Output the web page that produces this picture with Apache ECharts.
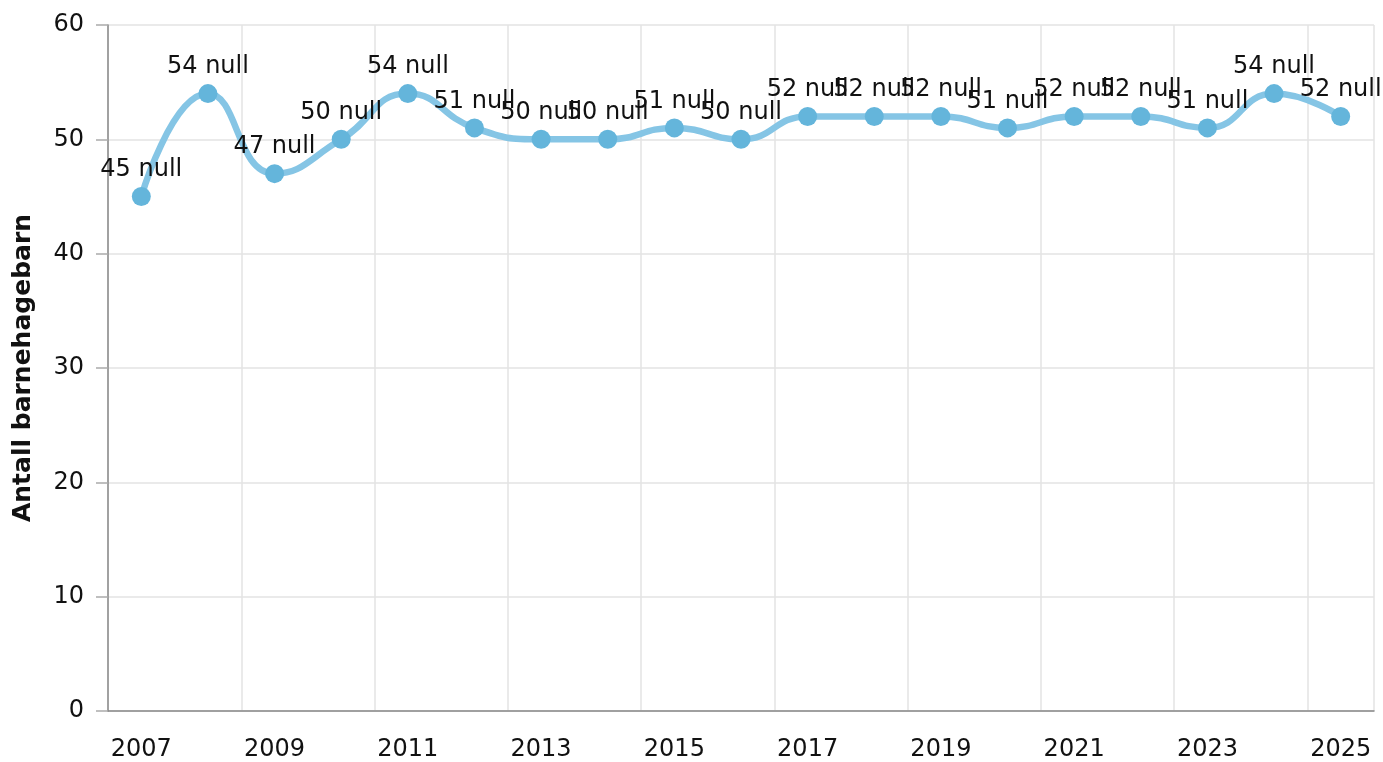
<!DOCTYPE html>
<html><head><meta charset="utf-8">
<script src="https://cdn.jsdelivr.net/npm/echarts@6/dist/echarts.min.js"></script>
<style>html,body{margin:0;padding:0;background:#fff}#c{width:1383px;height:762px}</style>
</head><body><div id="c"></div>
<script>
const years = ['2007','2008','2009','2010','2011','2012','2013','2014','2015','2016','2017','2018','2019','2020','2021','2022','2023','2024','2025'];
const values = [45,54,47,50,54,51,50,50,51,50,52,52,52,51,52,52,51,54,52];
const yTicks = {min:0, max:60, interval:10};
const yName = 'Antall barnehagebarn';
const FONT = 'DejaVu Sans';
const chart = echarts.init(document.getElementById('c'), null, {renderer:'canvas'});
chart.setOption({
  animation:false,
  textStyle:{fontFamily:FONT},
  grid:{left:108,right:9,top:25,bottom:50,containLabel:false},
  xAxis:{
    type:'category', data:years, boundaryGap:true,
    axisLine:{lineStyle:{color:'#888',width:1.5}},
    axisTick:{alignWithLabel:true, interval:1, length:8, lineStyle:{color:'#aaa',width:1.5}},
    axisLabel:{interval:1, color:'#111', fontSize:24, fontFamily:FONT, margin:27},
    splitLine:{show:true, interval:1, lineStyle:{color:'#e3e3e3',width:1.5}}
  },
  yAxis:{
    type:'value', min:yTicks.min, max:yTicks.max, interval:yTicks.interval,
    name:yName, nameLocation:'middle', nameGap:72, nameRotate:90,
    nameTextStyle:{fontSize:25, fontWeight:'bold', color:'#111', fontFamily:FONT},
    axisLine:{show:true, lineStyle:{color:'#888',width:1.5}},
    axisTick:{show:true, length:12, lineStyle:{color:'#aaa',width:1.5}},
    axisLabel:{color:'#111', fontSize:24, fontFamily:FONT, margin:24},
    splitLine:{lineStyle:{color:'#e3e3e3',width:1.5}}
  },
  series:[{
    type:'line', data:values, smooth:true,
    symbol:'circle', symbolSize:19,
    lineStyle:{color:'#85c5e5', width:6.5},
    itemStyle:{color:'#64b5db'},
    label:{show:true, position:'top', distance:5, color:'#111', fontSize:24, fontFamily:FONT,
      formatter:p=>p.value+' null'}
  }]
});
</script></body></html>
